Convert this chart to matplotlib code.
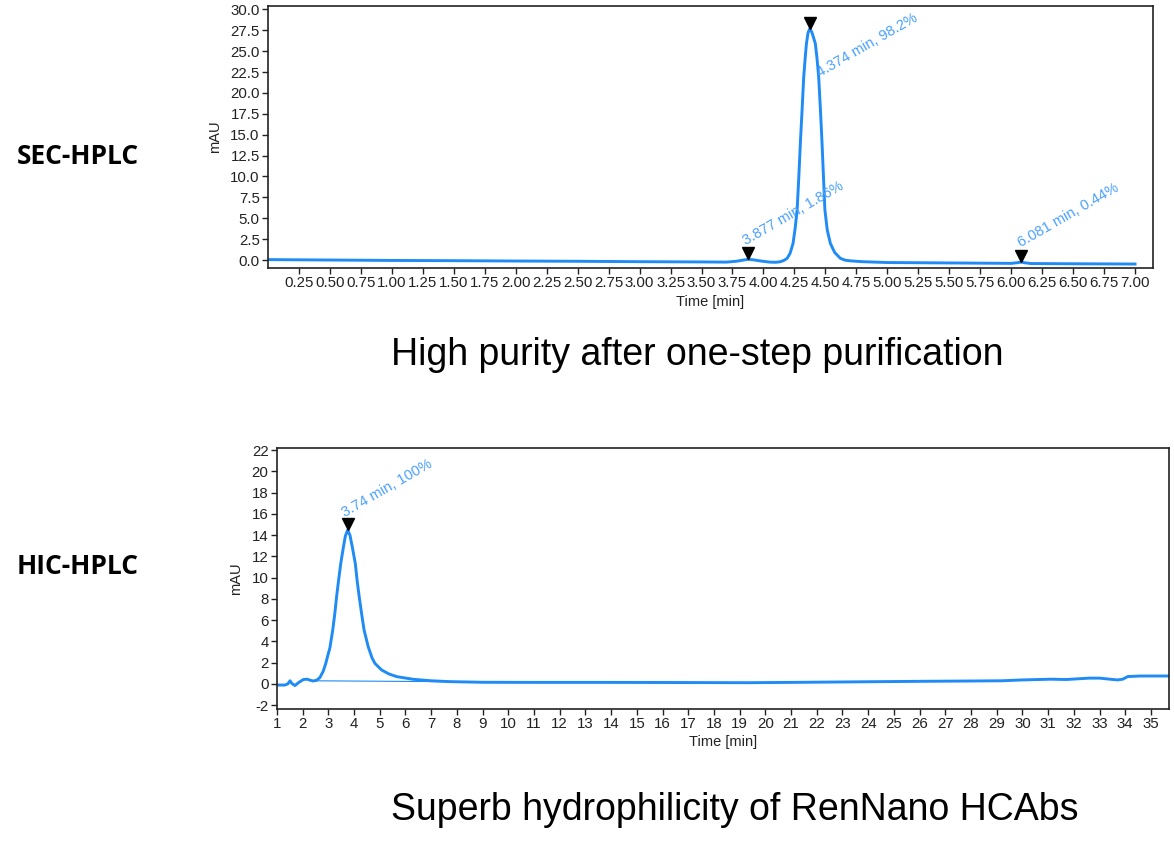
import numpy as np
import matplotlib
matplotlib.use("Agg")
import matplotlib.pyplot as plt
from matplotlib.ticker import FixedLocator, FormatStrFormatter

# SEC-HPLC trace (min, mAU)
sec_time = [0.00, 0.50, 1.00, 1.50, 2.00, 2.50, 3.00, 3.50, 3.70, 3.78, 3.84, 3.877, 3.92, 3.98,
            4.05, 4.10, 4.137, 4.165, 4.191, 4.215, 4.239, 4.256, 4.272, 4.285, 4.298, 4.312,
            4.325, 4.337, 4.347, 4.360, 4.374, 4.390, 4.405, 4.419, 4.432, 4.446, 4.460, 4.473,
            4.485, 4.496, 4.515, 4.540, 4.575, 4.621, 4.660, 4.702, 4.80, 5.00, 5.50, 6.00,
            6.05, 6.081, 6.11, 6.16, 6.50, 7.00]
sec_mau = [0.05, 0.00, -0.05, -0.08, -0.12, -0.15, -0.20, -0.23, -0.25, -0.15, 0.00, 0.08, 0.02, -0.12,
           -0.25, -0.27, -0.20, -0.05, 0.20, 0.80, 2.0, 3.8, 6.0, 9.8, 14.0, 18.0,
           21.9, 24.2, 25.9, 27.2, 27.7, 27.3, 26.6, 25.9, 24.2, 21.9, 18.0, 14.0,
           9.8, 6.0, 3.6, 2.0, 0.9, 0.2, -0.02, -0.10, -0.20, -0.30, -0.35, -0.40,
           -0.32, -0.25, -0.33, -0.42, -0.45, -0.48]
sec_peaks = [3.877, 4.374, 6.081]
sec_labels = ["3.877 min, 1.86%", "4.374 min, 98.2%", "6.081 min, 0.44%"]

# HIC-HPLC trace
hic_time = [1.00, 1.30, 1.42, 1.51, 1.58, 1.70, 1.85, 2.03, 2.17, 2.30, 2.41, 2.54, 2.67, 2.80,
            2.90, 2.97, 3.06, 3.17, 3.25, 3.32, 3.40, 3.48, 3.58, 3.66, 3.75, 3.84, 3.93, 4.05,
            4.12, 4.20, 4.30, 4.39, 4.55, 4.70, 4.81, 5.07, 5.35, 5.66, 6.30, 7.00, 7.73, 9.0,
            11.0, 13.5, 16.0, 19.3, 21.0, 23.5, 26.0, 28.0, 29.2, 30.0, 31.1, 31.7, 32.6, 33.0,
            33.4, 33.7, 33.9, 34.1, 34.6, 35.7]
hic_mau = [-0.10, -0.10, 0.00, 0.30, 0.05, -0.15, 0.15, 0.42, 0.45, 0.35, 0.28, 0.35, 0.60, 1.20,
           1.94, 2.60, 3.40, 5.07, 6.60, 8.20, 9.80, 11.3, 12.8, 13.9, 14.47, 14.0, 12.9, 11.3,
           9.7, 8.2, 6.5, 5.07, 3.5, 2.45, 1.94, 1.32, 0.95, 0.69, 0.44, 0.30, 0.22, 0.16,
           0.15, 0.15, 0.14, 0.12, 0.15, 0.20, 0.25, 0.28, 0.30, 0.38, 0.45, 0.42, 0.55, 0.55,
           0.45, 0.38, 0.45, 0.70, 0.75, 0.75]
hic_base_time = [2.40, 7.50]
hic_base_mau = [0.30, 0.22]
hic_peaks = [3.75]
hic_labels = ["3.74 min, 100%"]

sec_xticks = np.arange(0.25, 7.01, 0.25)
sec_yticks = np.arange(0, 30.01, 2.5)
hic_xticks = np.arange(1, 36, 1)
hic_yticks = np.arange(-2, 23, 2)

line_c = "#1f8bf5"
label_c = "#4aa0ff"
plt.rcParams["font.family"] = ["Liberation Sans", "DejaVu Sans"]
plt.rcParams["axes.unicode_minus"] = False

fig = plt.figure(figsize=(11.74, 8.55), dpi=100)


def chrom(ax, t, y, peaks, labels, offsets):
    ax.plot(t, y, color=line_c, lw=2.1, solid_joinstyle="round")
    apex = np.interp(peaks, t, y)
    shift = ax.transData + matplotlib.transforms.ScaledTranslation(0, 6 / 100, fig.dpi_scale_trans)
    for pk, ap, lab, off in zip(peaks, apex, labels, offsets):
        ax.plot([pk], [ap], marker="v", color="black", ms=8, ls="none", transform=shift)
        ax.annotate(lab, xy=(pk, ap), xytext=off, textcoords="offset pixels",
                    rotation=30, rotation_mode="anchor", ha="left", va="baseline",
                    color=label_c, fontsize=10.5)
    for s in ax.spines.values():
        s.set_linewidth(1.2)
        s.set_color("#222222")
    ax.tick_params(direction="out", length=4, width=1, labelsize=10.8, colors="#222222", pad=2)
    ax.set_xlabel("Time [min]", fontsize=10.5, color="#222222", labelpad=3)
    ax.set_ylabel("mAU", fontsize=10.5, color="#222222")


ax1 = fig.add_axes([0.2283, 0.6865, 0.7538, 0.3064])
chrom(ax1, sec_time, sec_mau, sec_peaks, sec_labels, [(-2, 14), (10, -49), (0, 15)])
ax1.set_xlim(0, 7.145)
ax1.set_ylim(-0.96, 30.4)
ax1.xaxis.set_major_locator(FixedLocator(sec_xticks))
ax1.xaxis.set_major_formatter(FormatStrFormatter("%.2f"))
ax1.yaxis.set_major_locator(FixedLocator(sec_yticks))
ax1.yaxis.set_major_formatter(FormatStrFormatter("%.1f"))
ax1.yaxis.labelpad = 6

ax2 = fig.add_axes([0.2359, 0.1708, 0.7598, 0.3053])
ax2.plot(hic_base_time, hic_base_mau, color=line_c, lw=0.8)
chrom(ax2, hic_time, hic_mau, hic_peaks, hic_labels, [(-3, 13)])
ax2.set_xlim(1, 35.7)
ax2.set_ylim(-2.35, 22.2)
ax2.xaxis.set_major_locator(FixedLocator(hic_xticks))
ax2.yaxis.set_major_locator(FixedLocator(hic_yticks))
ax2.yaxis.labelpad = 6

fig.text(17 / 1174, 1 - 157 / 855, "SEC-HPLC", fontsize=19, fontweight="bold",
         family=["Open Sans", "DejaVu Sans"], va="center", ha="left")
fig.text(17 / 1174, 1 - 567 / 855, "HIC-HPLC", fontsize=19, fontweight="bold",
         family=["Open Sans", "DejaVu Sans"], va="center", ha="left")
fig.text(697 / 1174, 1 - 355 / 855, "High purity after one-step purification",
         fontsize=27, ha="center", va="center")
fig.text(735 / 1174, 1 - 810 / 855, "Superb hydrophilicity of RenNano HCAbs",
         fontsize=27, ha="center", va="center")

fig.savefig("out.png", dpi=100)
